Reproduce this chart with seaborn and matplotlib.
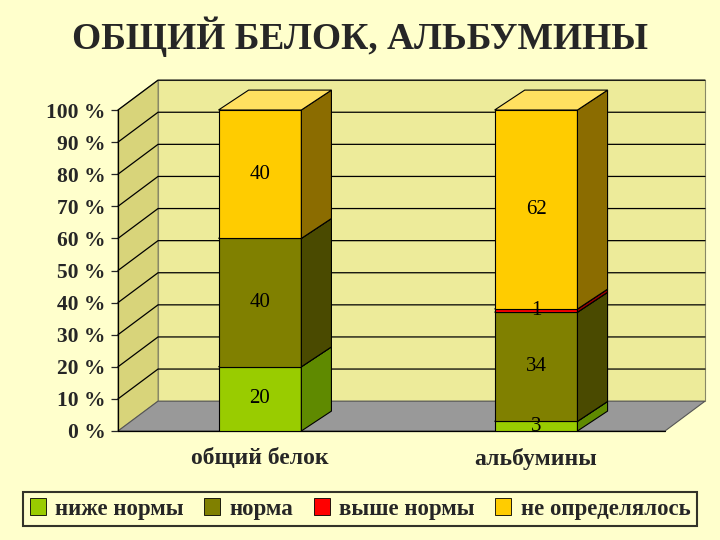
import matplotlib
matplotlib.use("Agg")
import matplotlib.pyplot as plt
import seaborn as sns
import numpy as np
from matplotlib.patches import Polygon, Patch

sns.set_style("white")
plt.rcParams['font.family'] = ['Liberation Serif', 'DejaVu Serif']

categories = ["общий белок", "альбумины"]
series = ["ниже нормы", "норма", "выше нормы", "не определялось"]
values = {
    "ниже нормы": [20, 3],
    "норма": [40, 34],
    "выше нормы": [0, 1],
    "не определялось": [40, 62],
}
labels = {
    "ниже нормы": ["20", "3"],
    "норма": ["40", "34"],
    "выше нормы": [None, "1"],
    "не определялось": ["40", "62"],
}
yticks = list(range(0, 101, 10))
front = {"ниже нормы": "#99CC00", "норма": "#808000", "выше нормы": "#FF0000", "не определялось": "#FFCC00"}
side = {"ниже нормы": "#5F8A00", "норма": "#4A4A00", "выше нормы": "#990000", "не определялось": "#8B6C00"}
top = {"ниже нормы": "#B8E040", "норма": "#A0A020", "выше нормы": "#FF4040", "не определялось": "#FFE060"}

fig = plt.figure(figsize=(7.2, 5.4), dpi=100, facecolor="#FFFFCC")
ax = fig.add_axes([118/720, 1-431/540, 547/720, 321/540])
ax.set_facecolor("none")
xl, xr = -0.514, 1.467
ax.set_xlim(xl, xr); ax.set_ylim(0, 100)
for s in ax.spines.values():
    s.set_visible(False)

wdx, wdy = 0.145, 9.3
ax.add_patch(Polygon([(xl+wdx, wdy), (xr+wdx, wdy), (xr+wdx, 100+wdy), (xl+wdx, 100+wdy)],
                     closed=True, fc="#EDEB9A", ec="#888866", lw=0.8, clip_on=False, zorder=0))
ax.add_patch(Polygon([(xl, 0), (xl, 100), (xl+wdx, 100+wdy), (xl+wdx, wdy)],
                     closed=True, fc="#D8D47A", ec="#888866", lw=0.8, clip_on=False, zorder=0))
ax.add_patch(Polygon([(xl, 0), (xr, 0), (xr+wdx, wdy), (xl+wdx, wdy)],
                     closed=True, fc="#999999", ec="#555555", lw=0.8, clip_on=False, zorder=0.5))
for y in yticks[1:]:
    ax.plot([xl, xl+wdx, xr+wdx], [y, y+wdy, y+wdy], color="black", lw=0.9, clip_on=False, zorder=0.6)
ax.plot([xl, xl], [0, 100], color="black", lw=0.9, clip_on=False)
ax.plot([xl, xr], [0, 0], color="black", lw=0.9, clip_on=False, zorder=0.7)

w = 0.30
bdx, bdy = 0.109, 6.2
for i, c in enumerate(categories):
    bottom = 0
    x0, x1 = i - w/2, i + w/2
    for s in series:
        v = values[s][i]
        if v > 0:
            ax.bar(i, v, width=w, bottom=bottom, color=front[s], edgecolor="black", lw=0.8, zorder=2)
            ax.add_patch(Polygon([(x1, bottom), (x1+bdx, bottom+bdy), (x1+bdx, bottom+v+bdy), (x1, bottom+v)],
                                 closed=True, fc=side[s], ec="black", lw=0.8, zorder=2, clip_on=False))
            ax.add_patch(Polygon([(x0, bottom+v), (x1, bottom+v), (x1+bdx, bottom+v+bdy), (x0+bdx, bottom+v+bdy)],
                                 closed=True, fc=top[s], ec="black", lw=0.8, zorder=2, clip_on=False))
        if labels[s][i]:
            ax.text(i, bottom + v/2, labels[s][i], ha="center", va="center", fontsize=15,
                    color="black", zorder=5)
        bottom += v

ax.set_yticks(yticks)
ax.set_yticklabels([f"{t} %" for t in yticks], fontsize=15.5, fontweight="bold")
ax.tick_params(axis="y", length=5, width=0.9, direction="out", left=True, pad=4)
ax.set_xticks(range(len(categories)))
ax.set_xticklabels(categories, fontsize=17, fontweight="bold")
ax.tick_params(axis="x", length=0, pad=12)

fig.text(0.5, 1-37/540, "ОБЩИЙ БЕЛОК, АЛЬБУМИНЫ", ha="center", va="center", fontsize=27, fontweight="bold")

handles = [Patch(fc=front[s], ec="black", lw=0.6) for s in series]
leg = fig.legend(handles, series, loc="center", bbox_to_anchor=(0.5, 1-509/540), ncol=4,
                 frameon=True, fancybox=False, edgecolor="black",
                 prop={"weight": "bold", "size": 16.5}, handlelength=0.7, handleheight=0.7,
                 handletextpad=0.4, columnspacing=0.9, borderpad=0.3)
leg.get_frame().set_facecolor("#FFFFCC")
leg.get_frame().set_linewidth(1.5)

fig.savefig("out.png", dpi=100, facecolor=fig.get_facecolor())
